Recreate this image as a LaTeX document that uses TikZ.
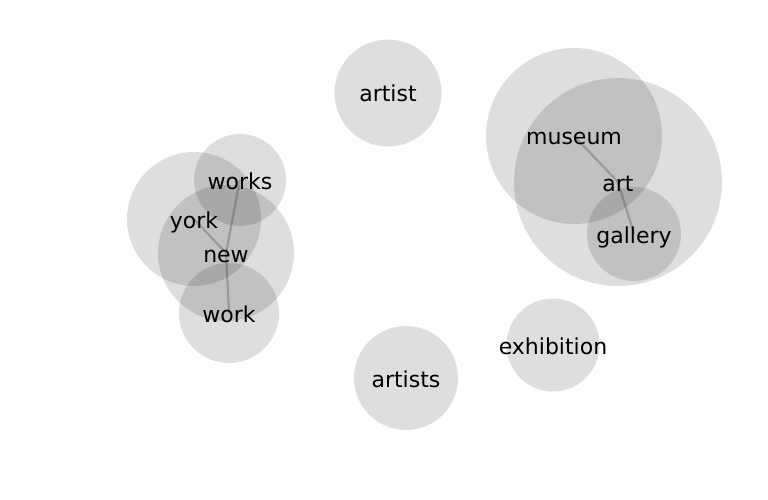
\documentclass[tikz,border=0pt]{standalone}
\usepackage{fontspec}
\setmainfont{DejaVu Sans}
\usetikzlibrary{backgrounds}

\tikzset{
  bubble/.style={circle, fill=black, fill opacity=0.13, text opacity=1, inner sep=0pt,
    text height=22pt, text depth=4pt, font=\fontsize{22}{26}\selectfont},
  link/.style={line width=2.2pt, color=black!20}
}

\begin{document}
\begin{tikzpicture}[x=1pt, y=-1pt]
				\useasboundingbox (0,0) rectangle (768,500);
				
				% Grupo izquierdo
				\node[bubble, minimum size=134pt] (york) at (194,219) {\makebox[0pt]{york}};
				\node[bubble, minimum size=92pt] (works) at (240,180) {\makebox[0pt]{works}};
				\node[bubble, minimum size=136pt] (new) at (226,253) {\makebox[0pt]{new}};
				\node[bubble, minimum size=100pt] (work) at (229,313) {\makebox[0pt]{work}};
				
				% Grupo derecho
				\node[bubble, minimum size=176pt] (museum) at (574,136) {\makebox[0pt]{museum}};
				\node[bubble, minimum size=208pt] (art) at (618,182) {\makebox[0pt]{art}};
				\node[bubble, minimum size=94pt] (gallery) at (634,234) {\makebox[0pt]{gallery}};
				
				% Sueltos
				\node[bubble, minimum size=107pt] (artist) at (388,93) {\makebox[0pt]{artist}};
				\node[bubble, minimum size=93pt] (exhibition) at (553,345) {\makebox[0pt]{exhibition}};
				\node[bubble, minimum size=104pt] (artists) at (406,378) {\makebox[0pt]{artists}};
				
				% Enlaces
				\begin{scope}[on background layer]
					\draw[link] (york.center) -- (new.center);
					\draw[link] (works.center) -- (new.center);
					\draw[link] (new.center) -- (work.center);
					\draw[link] (museum.center) -- (art.center);
					\draw[link] (art.center) -- (gallery.center);
				\end{scope}
\end{tikzpicture}
\end{document}
